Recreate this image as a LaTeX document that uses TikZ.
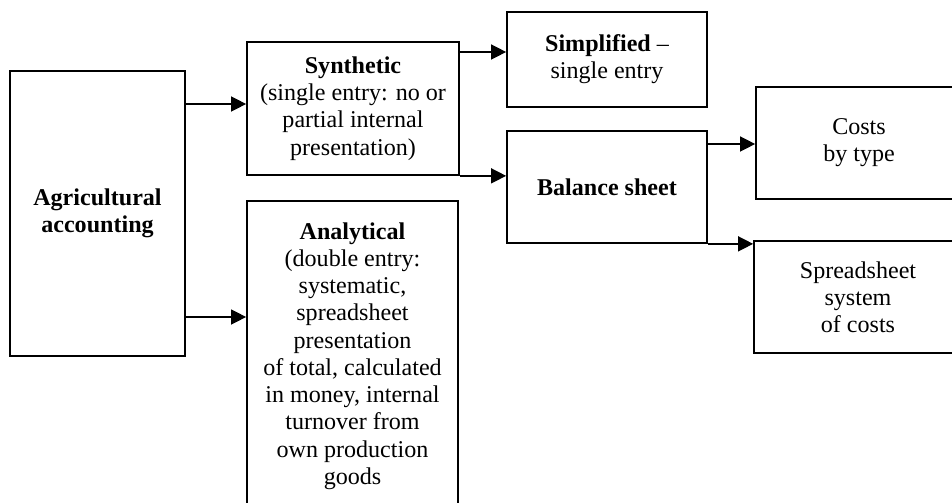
\documentclass[tikz,border=0pt]{standalone}
\usepackage{fontspec}
\setmainfont{Liberation Serif}
\usetikzlibrary{arrows.meta}
\begin{document}
\begin{tikzpicture}[x=0.02cm,y=-0.02cm,
	box/.style={draw,line width=1pt,align=center,inner sep=0pt,font=\fontsize{13.7}{15.5}\selectfont},
	arr/.style={line width=0.8pt,-{Triangle[length=0.3cm,width=0.3cm]}}]
		\useasboundingbox (0,0) rectangle (952,503);
		\clip (0,0) rectangle (952,503);
		\node[box,minimum width=3.5cm,minimum height=5.7cm] (agri) at (97.5,213.5) {\textbf{Agricultural}\\\textbf{accounting}};
		\node[box,minimum width=4.24cm,minimum height=2.66cm] (synth) at (353,108.5) {\textbf{Synthetic}\\(single entry: no or\\partial internal\\presentation)};
		\node[box,minimum width=4.22cm,minimum height=6.2cm] (anal) at (352.5,356) {\textbf{Analytical}\\(double entry:\\systematic,\\spreadsheet\\presentation\\of total, calculated\\in money, internal\\turnover from\\own production\\goods};
		\node[box,minimum width=4cm,minimum height=1.9cm] (simpl) at (607,59.5) {\textbf{Simplified} --\\single entry};
		\node[box,minimum width=4cm,minimum height=2.24cm] (bal) at (607,187) {\textbf{Balance sheet}};
		\node[box,minimum width=4.12cm,minimum height=2.24cm] (costs) at (859,143) {Costs\\by type};
		\node[box,minimum width=4.16cm,minimum height=2.24cm] (spread) at (858,297) {Spreadsheet\\system\\of costs};
			\draw[arr] (agri.east |- 0,104) -- (synth.west |- 0,104);
			\draw[arr] (agri.east |- 0,317) -- (anal.west |- 0,317);
			\draw[arr] (synth.east |- 0,52) -- (simpl.west |- 0,52);
			\draw[arr] (synth.south east) -- (bal.west |- synth.south east);
			\draw[arr] (bal.east |- 0,144) -- (costs.west |- 0,144);
			\draw[arr] (bal.south east) -- (spread.west |- bal.south east);
	\end{tikzpicture}
\end{document}
